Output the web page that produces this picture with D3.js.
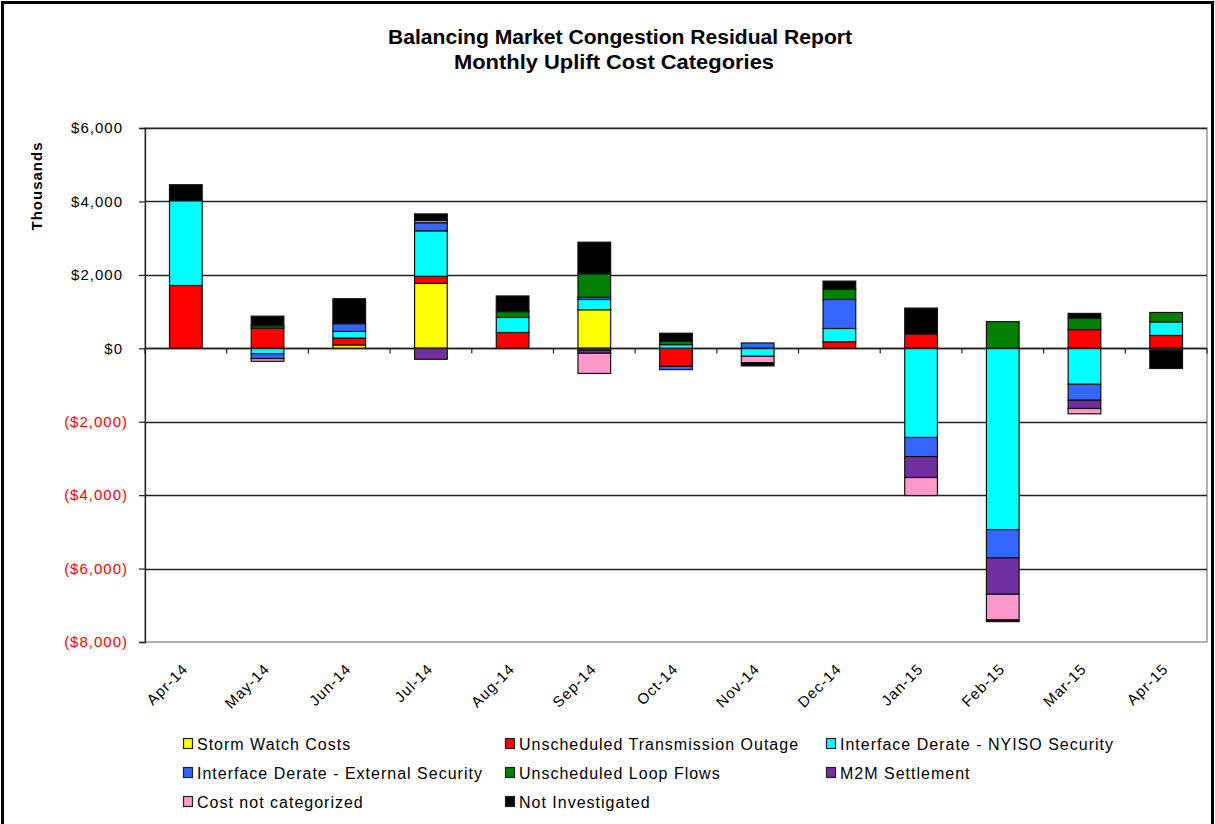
<!DOCTYPE html>
<html lang="en">
<head>
  <meta charset="UTF-8">
  <title>Balancing Market Congestion Residual Report</title>
  <style>body{margin:0;padding:0;background:#fff;font-family:"Liberation Sans",Arial,sans-serif;} svg{display:block;}</style>
  <script src="https://d3js.org/d3.v7.min.js"></script>
</head>
<body>
  <div id="chart"></div>
  <script>
    // month categories
    const months = ["Apr-14","May-14","Jun-14","Jul-14","Aug-14","Sep-14","Oct-14","Nov-14","Dec-14","Jan-15","Feb-15","Mar-15","Apr-15"];

    // values in $ thousands
    const stormWatch   = [0, 0, 90, 1770, 0, 1050, 0, 0, 0, 0, 0, 0, 0];
    const transOutage  = [1710, 550, 190, 190, 430, -55, -490, 0, 180, 390, 0, 510, 350];
    const nyisoSec     = [2310, -145, 180, 1240, 410, 280, 100, -220, 360, -2430, -4940, -980, 370];
    const externalSec  = [0, -135, 210, 220, 0, 60, -90, 145, 790, -520, -770, -435, -50];
    const loopFlows    = [0, 65, 0, 0, 160, 640, 90, 0, 280, 0, 725, 315, 255];
    const m2m          = [0, 0, 0, -300, 0, -80, 0, 0, 0, -570, -990, -225, 0];
    const notCat       = [0, -75, 0, 60, 0, -550, 0, -170, 0, -490, -700, -145, 0];
    const notInv       = [435, 260, 680, 180, 425, 860, 220, -90, 220, 705, -45, 125, -500];

    const seriesNames = ["Storm Watch Costs","Unscheduled Transmission Outage","Interface Derate - NYISO Security",
      "Interface Derate - External Security","Unscheduled Loop Flows","M2M Settlement","Cost not categorized","Not Investigated"];
    const seriesValues = [stormWatch, transOutage, nyisoSec, externalSec, loopFlows, m2m, notCat, notInv];
    const seriesColors = ["#FFFF00","#FF0000","#00FFFF","#3366FF","#008000","#7030A0","#FF99CC","#000000"];

    const yTicks = [-8000,-6000,-4000,-2000,0,2000,4000,6000];

    const W = 1215, H = 824;
    const plot = {left: 145, right: 1207, top: 128, bottom: 642};

    const svg = d3.select("#chart").append("svg").attr("width", W).attr("height", H);
    svg.append("rect").attr("width", W).attr("height", H).attr("fill", "#fff");

    // outer frame
    svg.append("rect").attr("x", 2.5).attr("y", 2.5).attr("width", 1210).attr("height", 840)
      .attr("fill", "none").attr("stroke", "#000").attr("stroke-width", 3);

    // title
    const title = svg.append("text").attr("text-anchor", "middle").attr("font-weight", "bold")
      .attr("font-size", 20).attr("fill", "#000");
    title.append("tspan").attr("x", 620).attr("y", 44).attr("textLength", 464).attr("lengthAdjust", "spacingAndGlyphs")
      .text("Balancing Market Congestion Residual Report");
    title.append("tspan").attr("x", 614).attr("y", 69).attr("textLength", 320).attr("lengthAdjust", "spacingAndGlyphs")
      .text("Monthly Uplift Cost Categories");

    const x = d3.scaleBand().domain(months).range([plot.left, plot.right]).paddingInner(0.6).paddingOuter(0.3);
    const y = d3.scaleLinear().domain([-8000, 6000]).range([plot.bottom, plot.top]);

    // plot area border
    svg.append("rect").attr("x", plot.left).attr("y", plot.top)
      .attr("width", plot.right - plot.left).attr("height", plot.bottom - plot.top)
      .attr("fill", "none").attr("stroke", "#999").attr("stroke-width", 1.5);

    // gridlines
    svg.append("g").selectAll("line").data(yTicks.filter(d => d !== -8000)).join("line")
      .attr("x1", plot.left).attr("x2", plot.right)
      .attr("y1", d => Math.round(y(d)) + 0.5).attr("y2", d => Math.round(y(d)) + 0.5)
      .attr("stroke", "#222").attr("stroke-width", 1.3);

    // stacked bars
    const rows = months.map((m, i) => {
      const r = {month: m};
      seriesNames.forEach((s, k) => r[s] = seriesValues[k][i]);
      return r;
    });
    const stack = d3.stack().keys(seriesNames).offset(d3.stackOffsetDiverging);
    const layers = stack(rows);

    svg.append("g").selectAll("g").data(layers).join("g")
      .attr("fill", (d, k) => seriesColors[k])
      .selectAll("rect").data(d => d.filter(p => p[1] !== p[0])).join("rect")
      .attr("x", d => x(d.data.month))
      .attr("width", x.bandwidth())
      .attr("y", d => y(Math.max(d[0], d[1])))
      .attr("height", d => Math.abs(y(d[0]) - y(d[1])))
      .attr("stroke", "#111").attr("stroke-width", 1.2);

    // zero axis line + category ticks
    const y0 = Math.round(y(0)) + 0.5;
    svg.append("line").attr("x1", plot.left).attr("x2", plot.right).attr("y1", y0).attr("y2", y0)
      .attr("stroke", "#222").attr("stroke-width", 1.3);
    const bounds = d3.range(months.length + 1).map(i => plot.left + i * (plot.right - plot.left) / months.length);
    svg.append("g").selectAll("line").data(bounds).join("line")
      .attr("x1", d => d).attr("x2", d => d).attr("y1", y0).attr("y2", y0 + 5)
      .attr("stroke", "#222").attr("stroke-width", 1.2);

    // y axis
    const yAxis = svg.append("g").attr("transform", `translate(${plot.left},0)`)
      .call(d3.axisLeft(y).tickValues(yTicks).tickSize(6).tickPadding(11)
        .tickFormat(d => d < 0 ? "($" + d3.format(",")(-d) + ")" : "$" + d3.format(",")(d)));
    yAxis.select(".domain").attr("stroke", "#222").attr("stroke-width", 1.3);
    yAxis.selectAll(".tick line").attr("stroke", "#222").attr("stroke-width", 1.2);
    yAxis.selectAll(".tick text").attr("font-size", 15).attr("font-family", "Liberation Sans, Arial, sans-serif")
      .attr("letter-spacing", 1)
      .attr("dx", d => d < 0 ? 0 : -5)
      .attr("fill", d => d < 0 ? "#FF0000" : "#000");

    svg.append("text").attr("transform", "translate(42,186) rotate(-90)").attr("text-anchor", "middle")
      .attr("font-weight", "bold").attr("font-size", 15).attr("letter-spacing", 1).text("Thousands");

    // x labels
    svg.append("g").selectAll("text").data(months).join("text")
      .attr("transform", d => `translate(${x(d) + x.bandwidth() / 2 + 3},670) rotate(-45)`)
      .attr("text-anchor", "end").attr("font-size", 15).attr("letter-spacing", 1).text(d => d);

    // legend
    const legCols = [183, 505, 826];
    const legRows = [750, 779, 808];
    const leg = svg.append("g").selectAll("g").data(seriesNames).join("g")
      .attr("transform", (d, i) => `translate(${legCols[i % 3]},${legRows[Math.floor(i / 3)]})`);
    leg.append("rect").attr("x", 0.5).attr("y", -11.5).attr("width", 9).attr("height", 10)
      .attr("fill", (d, i) => seriesColors[i]).attr("stroke", "#222").attr("stroke-width", 1.2);
    leg.append("text").attr("x", 14).attr("y", 0).attr("font-size", 16).attr("letter-spacing", 1)
      .text(d => d);
  </script>
</body>
</html>
